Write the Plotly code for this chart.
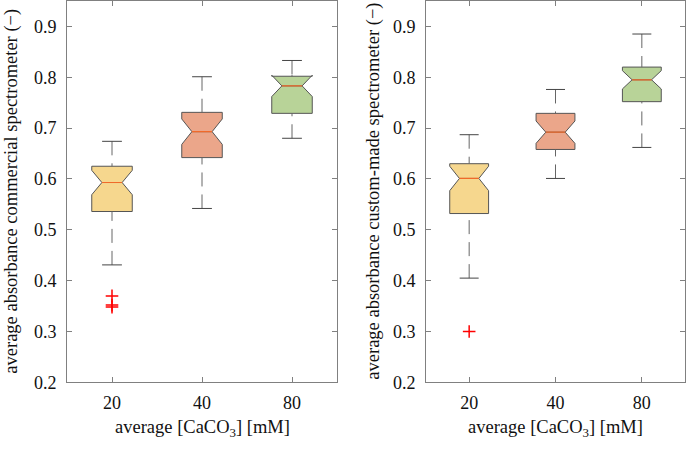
import plotly.graph_objects as go
from plotly.subplots import make_subplots

# ---------------------------------------------------------------------------
# Data
# ---------------------------------------------------------------------------

CATEGORIES = ["20", "40", "80"]
POSITIONS = [1, 2, 3]

# commercial spectrometer (left panel)
COM_LOWER = [0.431, 0.542, 0.680]
COM_Q1 = [0.536, 0.642, 0.729]
COM_MEDIAN = [0.593, 0.693, 0.783]
COM_Q3 = [0.625, 0.731, 0.802]
COM_UPPER = [0.674, 0.801, 0.833]
COM_NOTCH = [0.024, 0.025, 0.021]
COM_OUT_X = [1, 1, 1]
COM_OUT_Y = [0.370, 0.352, 0.348]

# custom-made spectrometer (right panel)
CUS_LOWER = [0.405, 0.601, 0.662]
CUS_Q1 = [0.532, 0.658, 0.752]
CUS_MEDIAN = [0.601, 0.692, 0.795]
CUS_Q3 = [0.630, 0.729, 0.820]
CUS_UPPER = [0.687, 0.776, 0.885]
CUS_NOTCH = [0.024, 0.022, 0.018]
CUS_OUT_X = [1]
CUS_OUT_Y = [0.300]

# ---------------------------------------------------------------------------
# Style
# ---------------------------------------------------------------------------

FILLS = ["#F6D78E", "#EBA68A", "#B8D398"]
BOX_LINE = "#555555"
WHISKER = "#666666"
CAP = "#444444"
MEDIAN = "#F06A2A"
OUTLIER = "#FF0000"
AXIS = "#808080"
TEXT = "#111111"
FONT = "Liberation Serif"
BOX_W = 0.45
CAP_HALF = 0.11


def add_panel(fig, col, lower, q1, med, q3, upper, notch, out_x, out_y):
    for p, a, m, b, n, c in zip(POSITIONS, q1, med, q3, notch, FILLS):
        fig.add_trace(go.Box(
            x=[p], q1=[a], median=[m], q3=[b],
            lowerfence=[a], upperfence=[b],
            notched=True, notchspan=[n], notchwidth=0.25,
            width=BOX_W, whiskerwidth=0, boxpoints=False,
            fillcolor=c, line=dict(color=BOX_LINE, width=1),
            hoverinfo="skip", showlegend=False,
        ), row=1, col=col)

    # dashed whiskers (drawn from the cap towards the box)
    wx, wy = [], []
    for p, lo, a, b, hi in zip(POSITIONS, lower, q1, q3, upper):
        wx += [p, p, None, p, p, None]
        wy += [lo, a, None, hi, b, None]
    fig.add_trace(go.Scatter(
        x=wx, y=wy, mode="lines",
        line=dict(color=WHISKER, width=1, dash="14px,8px"),
        hoverinfo="skip", showlegend=False,
    ), row=1, col=col)

    # whisker caps
    cx, cy = [], []
    for p, lo, hi in zip(POSITIONS, lower, upper):
        cx += [p - CAP_HALF, p + CAP_HALF, None, p - CAP_HALF, p + CAP_HALF, None]
        cy += [lo, lo, None, hi, hi, None]
    fig.add_trace(go.Scatter(
        x=cx, y=cy, mode="lines",
        line=dict(color=CAP, width=1),
        hoverinfo="skip", showlegend=False,
    ), row=1, col=col)

    # median lines (across the notch waist)
    mx, my = [], []
    half = BOX_W / 4
    for p, m in zip(POSITIONS, med):
        mx += [p - half, p + half, None]
        my += [m, m, None]
    fig.add_trace(go.Scatter(
        x=mx, y=my, mode="lines",
        line=dict(color=MEDIAN, width=1.2),
        hoverinfo="skip", showlegend=False,
    ), row=1, col=col)

    # outliers
    fig.add_trace(go.Scatter(
        x=out_x, y=out_y, mode="markers",
        marker=dict(symbol="cross-thin", size=9,
                    line=dict(color=OUTLIER, width=1.5)),
        hoverinfo="skip", showlegend=False,
    ), row=1, col=col)


fig = make_subplots(rows=1, cols=2)
add_panel(fig, 1, COM_LOWER, COM_Q1, COM_MEDIAN, COM_Q3, COM_UPPER,
          COM_NOTCH, COM_OUT_X, COM_OUT_Y)
add_panel(fig, 2, CUS_LOWER, CUS_Q1, CUS_MEDIAN, CUS_Q3, CUS_UPPER,
          CUS_NOTCH, CUS_OUT_X, CUS_OUT_Y)

W, H = 686, 453
x_axis = dict(
    range=[0.5, 3.5], tickvals=POSITIONS, ticktext=CATEGORIES,
    ticks="inside", ticklen=5, tickcolor=AXIS, tickwidth=1,
    showline=True, linecolor=AXIS, linewidth=1, mirror="ticks",
    showgrid=False, zeroline=False, ticklabelstandoff=4,
    tickfont=dict(family=FONT, size=18, color=TEXT),
)
y_axis = dict(
    range=[0.2, 0.95], tick0=0.2, dtick=0.1, tickformat=".1f",
    ticks="inside", ticklen=5, tickcolor=AXIS, tickwidth=1,
    showline=True, linecolor=AXIS, linewidth=1, mirror="ticks",
    showgrid=False, zeroline=False, ticklabelstandoff=6,
    tickfont=dict(family=FONT, size=18, color=TEXT),
    domain=[1 - 391 / H, 1 - 1 / H],
)

title_font = dict(family=FONT, size=18.5, color=TEXT)
fig.update_layout(
    width=W, height=H, autosize=False,
    margin=dict(l=0, r=0, t=0, b=0),
    paper_bgcolor="white", plot_bgcolor="white",
    font=dict(family=FONT, size=18, color=TEXT),
    xaxis=dict(x_axis, domain=[67 / W, 337 / W]),
    xaxis2=dict(x_axis, domain=[426 / W, 685 / W]),
    yaxis=y_axis,
    yaxis2=y_axis,
    annotations=[
        dict(text="average [CaCO<sub>3</sub>] [mM]", xref="paper", yref="paper",
             x=(67 + 337) / 2 / W, y=1 - 438 / H, showarrow=False,
             xanchor="center", yanchor="middle", font=title_font),
        dict(text="average [CaCO<sub>3</sub>] [mM]", xref="paper", yref="paper",
             x=(426 + 685) / 2 / W, y=1 - 438 / H, showarrow=False,
             xanchor="center", yanchor="middle", font=title_font),
        dict(text="average absorbance commercial spectrometer (−)",
             xref="paper", yref="paper", x=12 / W, y=1 - 196 / H,
             showarrow=False, textangle=-90,
             xanchor="center", yanchor="middle", font=title_font),
        dict(text="average absorbance custom-made spectrometer (−)",
             xref="paper", yref="paper", x=374 / W, y=1 - 196 / H,
             showarrow=False, textangle=-90,
             xanchor="center", yanchor="middle", font=title_font),
    ],
)

# drop the browser's default page margin / scrollbars so the figure sits at (0, 0)
fig.write_html(
    "out.html",
    config={"displayModeBar": False, "responsive": False},
    post_script="document.body.style.margin = '0'; document.body.style.overflow = 'hidden';",
)
